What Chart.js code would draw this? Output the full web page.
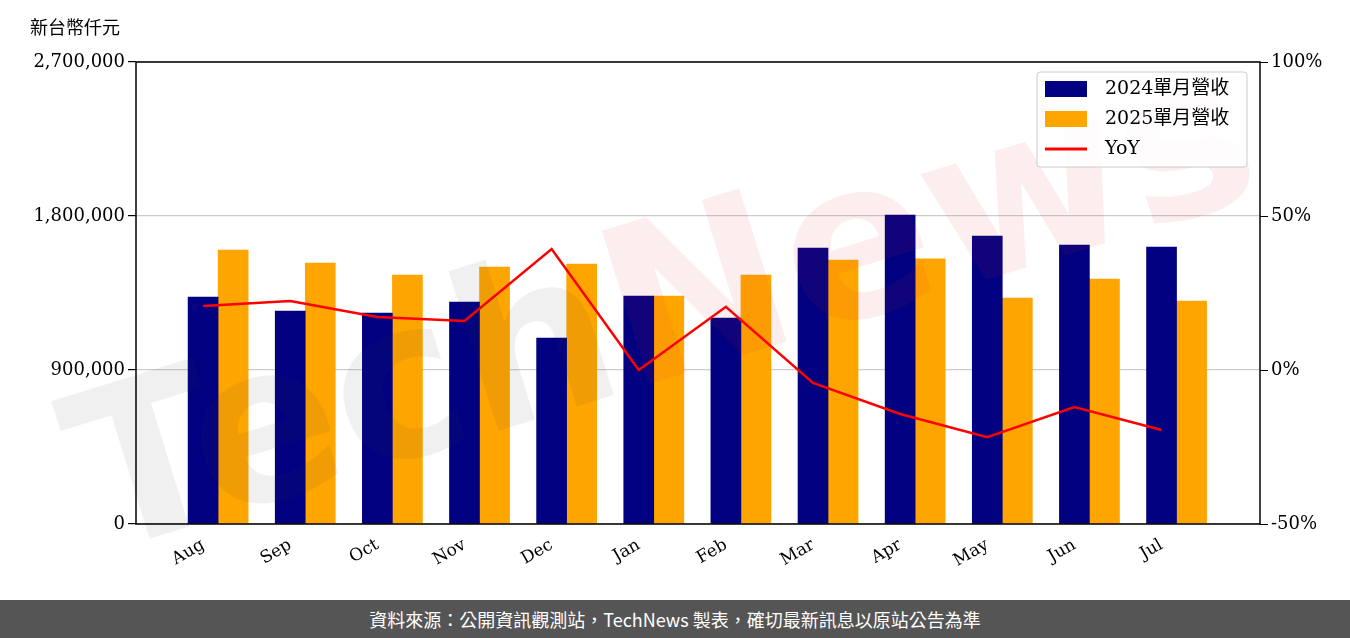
<!DOCTYPE html>
<html><head><meta charset="utf-8">
<script src="https://cdn.jsdelivr.net/npm/chart.js@4/dist/chart.umd.min.js"></script>
<style>
body{margin:0;width:1350px;height:638px;overflow:hidden;background:#fff}
#wrap{position:relative;width:1350px;height:600px}
#foot{height:38px;background:#555;color:#fff;font:18px "Noto Sans CJK TC","Noto Sans",sans-serif;text-align:center;line-height:38px}
</style></head><body>
<div id="wrap"><canvas id="c" width="1350" height="600"></canvas></div>
<div id="foot">資料來源：公開資訊觀測站，TechNews 製表，確切最新訊息以原站公告為準</div>
<script>
const categories=["Aug","Sep","Oct","Nov","Dec","Jan","Feb","Mar","Apr","May","Jun","Jul"];
const rev2024=[1326600,1244800,1233000,1297000,1087000,1332000,1204000,1613000,1806000,1683000,1630000,1619000];
const rev2025=[1601000,1525000,1455000,1502000,1519000,1332000,1455000,1543000,1549000,1321000,1432000,1303000];
const yoy=[20.8,22.4,17.2,15.9,39.3,0,20.5,-4.2,-14.3,-21.8,-12.0,-19.5];
const leftTicks=[0,900000,1800000,2700000];
const rightTicks=[-50,0,50,100];
const W=0.345;
const F='"DejaVu Serif",serif';
const FC='"DejaVu Serif","Noto Sans CJK TC",serif';
const deco={id:'deco',
 afterDraw(ch){const c=ch.ctx,a=ch.chartArea;
  c.save();c.globalAlpha=0.08;c.translate(660,300);c.rotate(-0.3);
  c.font='bold 220px "DejaVu Sans",sans-serif';c.textBaseline='middle';
  const w1=c.measureText('Tech').width,w2=c.measureText('News').width,x0=-(w1+w2)/2;
  c.fillStyle='#444';c.fillText('Tech',x0,20);
  c.fillStyle='#d22';c.fillText('News',x0+w1,20);
  c.restore();
  c.save();c.strokeStyle='#000';c.lineWidth=1.5;c.strokeRect(a.left,a.top,a.right-a.left,a.bottom-a.top);c.restore();
  c.save();c.font='18px "Noto Sans CJK TC",sans-serif';c.fillStyle='#000';c.textBaseline='middle';c.fillText('新台幣仟元',30,27);
  const x=1037,y=72,ww=210,h=95;
  c.fillStyle='rgba(255,255,255,0.85)';c.strokeStyle='#ccc';c.lineWidth=1;
  c.beginPath();c.roundRect(x,y,ww,h,3);c.fill();c.stroke();
  const items=[['2024單月營收','#000080','bar'],['2025單月營收','#FFA500','bar'],['YoY','#FF0000','line']];
  c.font='19px '+FC;
  items.forEach((it,i)=>{const yy=y+17+i*30;
   if(it[2]=='bar'){c.fillStyle=it[1];c.fillRect(x+8,yy-8,42,16);}
   else{c.strokeStyle=it[1];c.lineWidth=3;c.beginPath();c.moveTo(x+8,yy);c.lineTo(x+50,yy);c.stroke();}
   c.fillStyle='#000';c.fillText(it[0],x+68,yy);});
  c.restore();}};
new Chart(document.getElementById('c'),{
 data:{datasets:[
  {type:'line',label:'YoY',data:yoy.map((v,i)=>({x:i,y:v})),yAxisID:'y2',borderColor:'#FF0000',borderWidth:2.5,pointRadius:0,tension:0,order:0},
  {type:'bar',label:'2024單月營收',data:rev2024.map((v,i)=>({x:i,y:v})),backgroundColor:'#000080',yAxisID:'y',barThickness:30,grouped:false,order:1},
  {type:'bar',label:'2025單月營收',data:rev2025.map((v,i)=>({x:i+W,y:v})),backgroundColor:'#FFA500',yAxisID:'y',barThickness:30,grouped:false,order:1}]},
 options:{responsive:false,animation:false,
  layout:{padding:{top:62,left:0,right:0,bottom:0}},
  plugins:{legend:{display:false},tooltip:{enabled:false}},
  scales:{
   x:{type:'linear',min:-0.77,max:12.13,offset:false,afterBuildTicks(s){s.ticks=categories.map((_,i)=>({value:i}));},
      grid:{display:false},border:{display:false},
      ticks:{color:'#000',font:{family:F,size:17},maxRotation:30,minRotation:30,callback:v=>categories[v]},afterFit(s){s.height=76;}},
   y:{position:'left',min:0,max:2700000,afterBuildTicks(s){s.ticks=leftTicks.map(v=>({value:v}));},
      ticks:{color:'#000',font:{family:F,size:18},callback:v=>v.toLocaleString('en-US')},
      grid:{color:'#ccc',lineWidth:1.2,tickLength:8,tickColor:'#000'},border:{display:false},afterFit(s){s.width=136;}},
   y2:{position:'right',min:-50,max:100,afterBuildTicks(s){s.ticks=rightTicks.map(v=>({value:v}));},
      ticks:{color:'#000',font:{family:F,size:18},callback:v=>v+'%'},
      grid:{drawOnChartArea:false,tickLength:8,tickColor:'#000'},border:{display:false},afterFit(s){s.width=90;}}}},
 plugins:[deco]});
</script></body></html>
